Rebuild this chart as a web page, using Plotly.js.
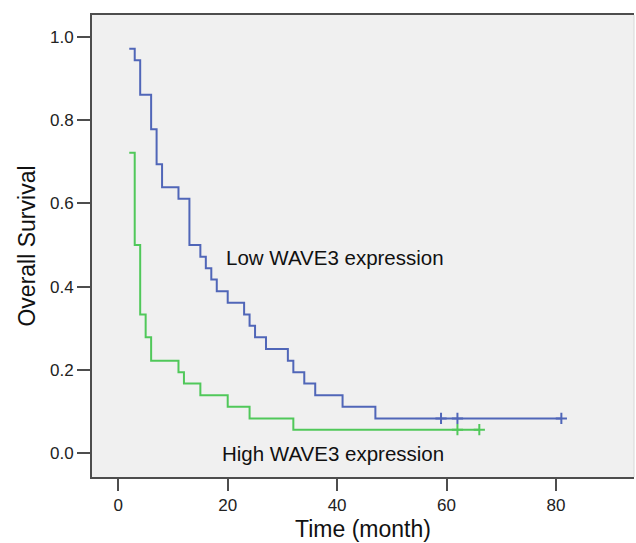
<!DOCTYPE html>
<html>
<head>
<meta charset="utf-8">
<script src="https://cdn.plot.ly/plotly-3.0.1.min.js"></script>
<style>html,body{margin:0;padding:0;background:#fff;}#chart{width:636px;height:543px;}</style>
</head>
<body>
<div id="chart"></div>
<script>
// Kaplan-Meier step data (time in months, overall survival)
const lowTime = [2, 3, 4, 6, 7, 8, 11, 13, 15, 16, 17, 18, 20, 23, 24, 25, 27, 31, 32, 34, 36, 41, 47, 81];
const lowSurv = [0.972, 0.944, 0.861, 0.778, 0.694, 0.639, 0.611, 0.5, 0.472, 0.444, 0.417, 0.389, 0.361, 0.333, 0.306, 0.278, 0.25, 0.222, 0.194, 0.167, 0.139, 0.111, 0.083, 0.083];
const lowCensorTime = [59, 62, 81];
const lowCensorSurv = [0.083, 0.083, 0.083];

const highTime = [2, 3, 4, 5, 6, 11, 12, 15, 20, 24, 32, 66];
const highSurv = [0.722, 0.5, 0.333, 0.278, 0.222, 0.194, 0.167, 0.139, 0.111, 0.083, 0.056, 0.056];
const highCensorTime = [62, 66];
const highCensorSurv = [0.056, 0.056];

const xTicks = [0, 20, 40, 60, 80];
const yTicks = [0, 0.2, 0.4, 0.6, 0.8, 1.0];
const lowLabel = "Low WAVE3 expression";
const highLabel = "High WAVE3 expression";

const blue = "#5066b8";
const green = "#50c85a";
const font = "Liberation Sans, Arial, sans-serif";

const traces = [
  {x: lowTime, y: lowSurv, mode: "lines", line: {shape: "hv", color: blue, width: 2}, name: lowLabel},
  {x: highTime, y: highSurv, mode: "lines", line: {shape: "hv", color: green, width: 2}, name: highLabel},
  {x: lowCensorTime, y: lowCensorSurv, mode: "markers", marker: {symbol: "cross-thin-open", size: 8, color: blue, line: {color: blue, width: 2}}, name: lowLabel + " censored"},
  {x: highCensorTime, y: highCensorSurv, mode: "markers", marker: {symbol: "cross-thin-open", size: 8, color: green, line: {color: green, width: 2}}, name: highLabel + " censored"}
];

const layout = {
  width: 636, height: 543,
  margin: {l: 92, r: 2, t: 15, b: 66},
  paper_bgcolor: "#ffffff",
  plot_bgcolor: "#f0f0f0",
  showlegend: false,
  font: {family: font, color: "#222", size: 16},
  xaxis: {
    range: [-4.81, 94.28],
    tickvals: xTicks, ticktext: xTicks.map(String),
    ticks: "outside", ticklen: 12, tickwidth: 2, tickcolor: "#4d4d4d",
    showline: true, linecolor: "#4d4d4d", linewidth: 2, mirror: true,
    showgrid: false, zeroline: false,
    tickfont: {size: 17, color: "#222"},
    title: {text: "Time (month)", font: {size: 23, color: "#111"}, standoff: 6}
  },
  yaxis: {
    range: [-0.0577, 1.0529],
    tickvals: yTicks, ticktext: yTicks.map(v => v.toFixed(1)),
    ticks: "outside", ticklen: 13, tickwidth: 2, tickcolor: "#4d4d4d",
    showline: true, linecolor: "#4d4d4d", linewidth: 2, mirror: false,
    showgrid: false, zeroline: false,
    tickfont: {size: 17, color: "#222"},
    title: {text: "Overall Survival", font: {size: 23, color: "#111"}, standoff: 8}
  },
  shapes: [
    {type: "line", xref: "paper", yref: "paper", x0: 1, x1: 1, y0: 0, y1: 1, line: {color: "#d8d8d8", width: 1}}
  ],
  annotations: [
    {x: 19.35, y: 0.4704, xref: "x", yref: "y", text: lowLabel, showarrow: false, xanchor: "left", yanchor: "middle", font: {size: 20.5, color: "#111"}},
    {x: 18.55, y: 0.0, xref: "x", yref: "y", text: highLabel, showarrow: false, xanchor: "left", yanchor: "middle", font: {size: 20.5, color: "#111"}}
  ]
};

Plotly.newPlot("chart", traces, layout, {displayModeBar: false, staticPlot: true});
</script>
</body>
</html>
